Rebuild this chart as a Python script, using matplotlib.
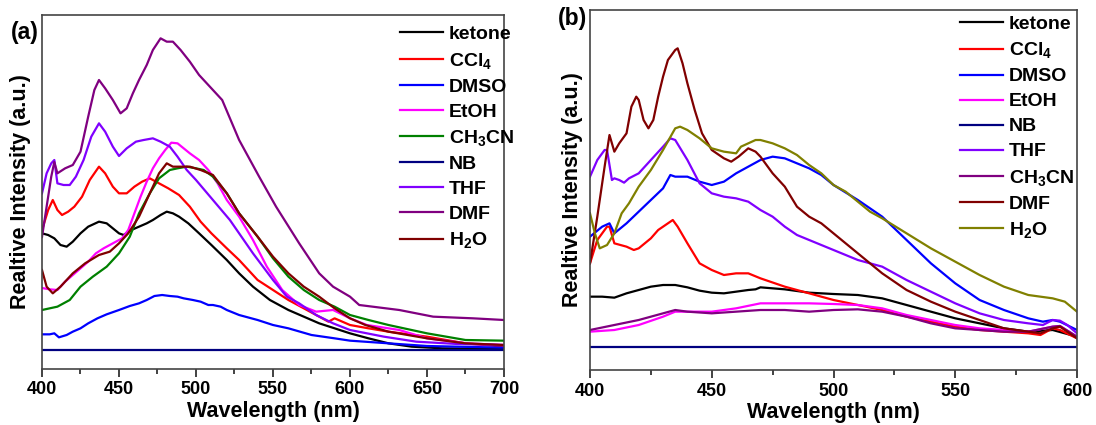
import matplotlib
matplotlib.use("Agg")
import matplotlib.pyplot as plt
from matplotlib.ticker import MultipleLocator

plt.rcParams['font.family'] = ['Liberation Sans', 'DejaVu Sans']
plt.rcParams['font.weight'] = 'bold'
plt.rcParams['mathtext.fontset'] = 'custom'
plt.rcParams['mathtext.rm'] = 'Liberation Sans:bold'
plt.rcParams['mathtext.it'] = 'Liberation Sans:bold'
plt.rcParams['mathtext.bf'] = 'Liberation Sans:bold'

# ---------------- Panel (a) data (relative intensity, a.u.) ----------------
ketone_a_wl = [400,404,408,412,416,420,425,430,437,442,446,450,453,458,463,468,472,477,481,485,489,495,502,510,520,528,537,548,560,570,580,590,600,612,625,640,660,700]
ketone_a = [407,402,392,372,367,382,407,427,442,437,422,407,402,417,427,437,447,462,472,467,457,437,407,372,327,287,247,207,177,157,137,122,107,92,77,67,62,60]

ccl4_a_wl = [400,404,407,410,413,417,421,426,431,437,441,446,450,455,460,465,470,476,482,489,496,503,510,520,528,540,550,560,570,580,586,590,600,612,625,650,675,700]
ccl4_a = [417,477,507,477,462,472,487,517,567,607,587,547,527,527,547,562,572,557,542,522,487,442,407,362,327,267,237,207,182,157,142,152,132,122,112,97,77,67]

dmso_a_wl = [400,405,408,411,416,420,425,430,436,442,450,457,463,468,473,478,483,488,492,498,503,508,511,516,520,528,540,550,560,575,590,600,625,650,700]
dmso_a = [104,104,107,95,102,112,122,137,152,164,177,189,197,207,219,222,219,217,212,207,202,192,192,187,177,162,147,132,122,102,92,85,77,69,64]

etoh_a_wl = [400,405,410,415,420,425,430,435,440,446,452,456,460,464,468,472,476,480,484,488,492,496,502,508,514,520,528,537,546,556,567,578,589,600,611,632,650,676,700]
etoh_a = [243,239,237,262,282,302,322,347,362,377,392,417,467,517,562,602,632,657,679,677,662,647,627,597,557,507,457,387,307,237,192,172,177,152,132,117,92,77,72]

ch3cn_a_wl = [400,410,418,425,433,442,450,457,463,470,476,483,488,494,500,505,511,520,528,540,550,560,570,580,590,600,612,625,650,675,700]
ch3cn_a = [177,187,207,247,277,307,347,397,467,527,572,597,602,607,602,597,577,527,467,397,332,277,237,207,187,162,147,132,107,87,85]

nb_a_wl = [400,700]
nb_a = [57,57]

thf_a_wl = [400,403,406,408,410,414,418,422,427,432,437,441,446,450,455,461,466,472,477,483,488,494,500,511,522,537,550,559,567,578,589,600,622,643,670,700]
thf_a = [527,587,617,627,557,552,552,577,627,697,737,712,667,639,662,682,687,692,682,667,637,597,567,507,447,347,267,217,197,162,137,117,97,82,75,72]

dmf_a_wl = [400,403,406,408,410,415,420,425,430,434,437,441,446,451,455,459,463,468,472,477,481,485,490,496,502,510,517,528,541,552,567,580,589,600,606,632,654,680,700]
dmf_a = [396,487,577,621,587,602,612,652,757,837,867,842,807,767,782,827,867,912,957,992,982,982,957,922,882,842,807,687,577,487,377,287,247,217,192,177,157,152,147]

h2o_a_wl = [400,403,407,412,420,428,437,444,450,456,463,468,472,476,481,485,490,496,503,511,520,528,540,550,560,570,580,590,600,610,625,650,675,700]
h2o_a = [297,247,227,247,287,317,342,352,377,407,457,507,547,587,617,607,607,607,597,582,527,467,397,337,287,247,217,182,152,132,112,92,77,72]

# ---------------- Panel (b) data ----------------
ketone_b_wl = [400,405,410,415,420,425,430,435,440,445,450,455,460,465,468,470,475,480,490,500,510,520,530,540,550,560,570,580,590,600]
ketone_b = [220,220,217,230,240,250,255,255,248,238,232,230,235,240,242,248,245,242,232,228,225,215,195,175,155,140,125,115,120,100]

ccl4_b_wl = [400,403,407,408,410,415,418,420,425,428,432,434,436,440,445,450,455,460,465,470,480,490,500,510,520,530,540,550,560,570,580,585,590,593,600]
ccl4_b = [320,390,430,430,380,370,360,365,395,420,440,450,430,380,320,300,285,290,290,275,250,230,210,195,180,160,145,130,120,115,110,105,125,120,95]

dmso_b_wl = [400,405,408,410,415,420,425,430,433,435,440,445,450,455,460,465,470,475,480,485,490,495,500,510,520,530,540,550,560,570,580,586,590,593,600]
dmso_b = [400,430,440,410,440,475,510,545,585,580,580,565,555,565,590,610,630,640,635,620,605,585,555,510,460,390,320,260,210,180,155,145,150,145,120]

etoh_b_wl = [400,410,420,430,435,440,450,460,470,480,490,500,510,520,530,540,550,560,570,580,590,593,600]
etoh_b = [115,120,135,160,175,175,175,185,200,200,200,198,195,185,165,150,135,125,120,115,130,132,100]

nb_b_wl = [400,600]
nb_b = [70,70]

thf_b_wl = [400,403,406,407,409,410,412,414,416,420,425,430,433,435,440,445,450,455,460,465,470,475,480,485,490,495,500,505,510,520,530,540,550,560,570,580,586,590,593,596,600]
thf_b = [580,630,660,660,570,575,570,562,575,590,630,670,695,690,630,560,530,520,515,505,480,460,430,405,390,375,360,345,330,310,270,235,200,170,150,140,135,150,148,135,110]

ch3cn_b_wl = [400,410,420,430,435,440,450,460,470,480,490,500,510,520,530,540,550,560,570,580,590,593,600]
ch3cn_b = [120,135,150,170,180,175,170,175,180,180,175,180,182,175,160,140,125,120,115,115,130,132,100]

dmf_b_wl = [400,403,406,408,410,412,415,417,419,420,422,424,426,428,430,432,435,436,438,440,443,446,450,455,458,461,465,468,470,475,480,485,490,495,500,510,520,530,540,550,560,570,580,585,590,593,600]
dmf_b = [320,460,610,705,655,680,710,790,820,810,750,725,750,820,880,930,960,965,920,860,780,710,660,635,625,640,665,655,640,590,550,490,460,440,410,350,290,240,205,175,150,125,115,110,125,130,95]

h2o_b_wl = [400,402,404,407,410,413,416,420,425,430,435,437,440,445,450,455,460,462,465,468,470,475,480,485,490,495,500,505,510,515,520,530,540,550,560,570,580,590,595,600]
h2o_b = [470,410,365,375,410,470,500,550,600,660,725,730,720,695,665,655,650,670,680,690,690,680,665,645,615,590,555,535,505,475,455,410,365,325,285,250,225,215,205,175]

x_ticks_a = [400, 450, 500, 550, 600, 650, 700]
x_ticks_b = [400, 450, 500, 550, 600]

series_a = [
    ("ketone", ketone_a_wl, ketone_a, "#000000"),
    (r"CCl$_4$", ccl4_a_wl, ccl4_a, "#FF0000"),
    ("DMSO", dmso_a_wl, dmso_a, "#0000FF"),
    ("EtOH", etoh_a_wl, etoh_a, "#FF00FF"),
    (r"CH$_3$CN", ch3cn_a_wl, ch3cn_a, "#008000"),
    ("NB", nb_a_wl, nb_a, "#000080"),
    ("THF", thf_a_wl, thf_a, "#8000FF"),
    ("DMF", dmf_a_wl, dmf_a, "#800080"),
    (r"H$_2$O", h2o_a_wl, h2o_a, "#800000"),
]
series_b = [
    ("ketone", ketone_b_wl, ketone_b, "#000000"),
    (r"CCl$_4$", ccl4_b_wl, ccl4_b, "#FF0000"),
    ("DMSO", dmso_b_wl, dmso_b, "#0000FF"),
    ("EtOH", etoh_b_wl, etoh_b, "#FF00FF"),
    ("NB", nb_b_wl, nb_b, "#000080"),
    ("THF", thf_b_wl, thf_b, "#8000FF"),
    (r"CH$_3$CN", ch3cn_b_wl, ch3cn_b, "#800080"),
    ("DMF", dmf_b_wl, dmf_b, "#800000"),
    (r"H$_2$O", h2o_b_wl, h2o_b, "#808000"),
]

W, H = 1096, 425
fig = plt.figure(figsize=(W / 100, H / 100), dpi=100)

def px_axes(l, t, r, b):
    return fig.add_axes([l / W, (H - b) / H, (r - l) / W, (b - t) / H])

ax_a = px_axes(42, 15, 504, 369)
ax_b = px_axes(590, 10, 1077, 370)

def style(ax, series, xlim, ylim, ticks, leg_anchor, tag, tag_xy, ylab_x):
    for name, wl, val, c in series:
        ax.plot(wl, val, color=c, lw=1.6, label=name)
    ax.set_xlim(*xlim)
    ax.set_ylim(*ylim)
    ax.set_xticks(ticks)
    ax.xaxis.set_minor_locator(MultipleLocator(25))
    ax.set_yticks([])
    ax.tick_params(axis='x', which='major', direction='out', length=6, width=1.2,
                   labelsize=13, pad=3, colors='#222222')
    ax.tick_params(axis='x', which='minor', direction='out', length=3.5, width=1.2, colors='#222222')
    for lab in ax.get_xticklabels():
        lab.set_fontweight('bold')
        lab.set_color('black')
    for sp in ax.spines.values():
        sp.set_color('#444444')
        sp.set_linewidth(1.2)
    ax.set_xlabel("Wavelength (nm)", fontsize=15.5, fontweight='bold', labelpad=2)
    ax.set_ylabel("Realtive Intensity (a.u.)", fontsize=15.5, fontweight='bold')
    ax.yaxis.set_label_coords(ylab_x, 0.5)
    leg = ax.legend(loc='upper left', bbox_to_anchor=leg_anchor, frameon=False,
                    fontsize=14, handlelength=2.2, handletextpad=0.3,
                    labelspacing=0.38, borderpad=0, borderaxespad=0)
    for t in leg.get_texts():
        t.set_fontweight('bold')
    for lh in leg.get_lines():
        lh.set_linewidth(1.6)
    fig.text(tag_xy[0] / W, 1 - tag_xy[1] / H, tag, fontsize=16.5, fontweight='bold',
             ha='left', va='center')

style(ax_a, series_a, (400, 700), (0, 1062), x_ticks_a, (0.775, 0.97), "(a)", (11, 32), -0.024)
style(ax_b, series_b, (400, 600), (0, 1080), x_ticks_b, (0.76, 0.985), "(b)", (558, 19), -0.014)

fig.savefig("out.png", dpi=100)
